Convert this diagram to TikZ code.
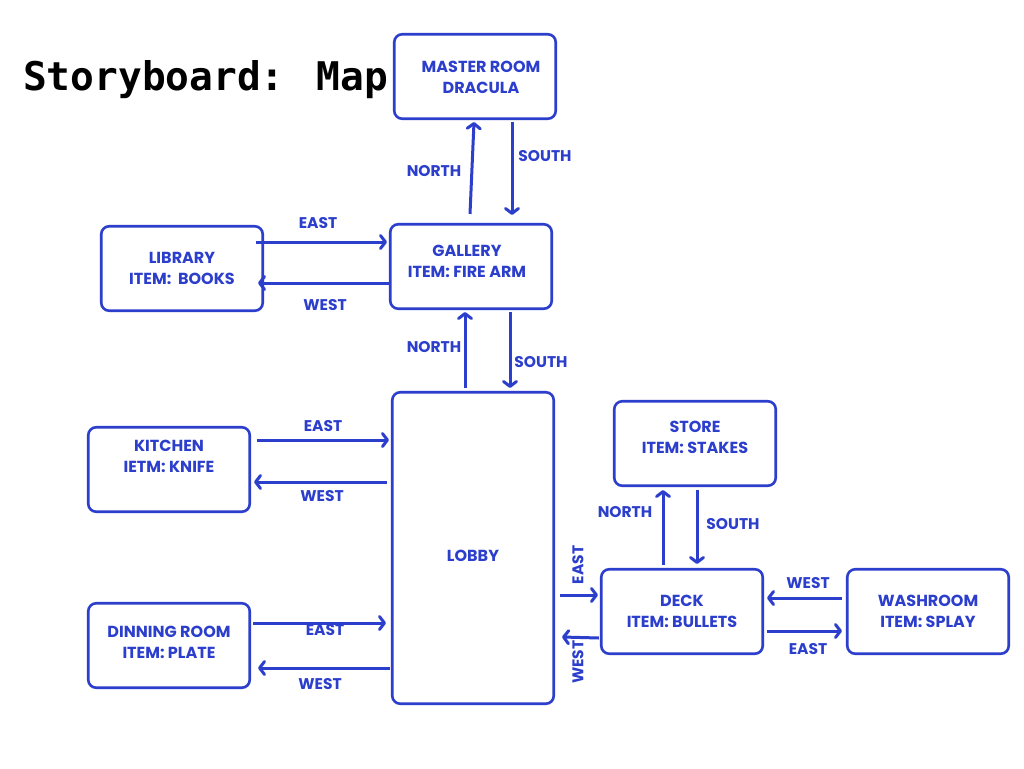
\documentclass[tikz,border=0pt]{standalone}
\usepackage{fontspec}
\setmainfont{Poppins}
\newfontfamily\titlefont{DejaVu Sans Mono}
\usetikzlibrary{arrows.meta,calc}
\definecolor{mblue}{HTML}{2C3ECC}
\tikzset{
  room/.style={draw=mblue, line width=2.6pt, rounded corners=8pt, minimum width=161.5pt, inner sep=0pt},
  roomsm/.style={room, minimum height=84.5pt},
  txt/.style={text=mblue, font=\bfseries\fontsize{16}{21}\selectfont, align=center, inner sep=0pt},
  lbl/.style={text=mblue, font=\bfseries\fontsize{15.5}{17}\selectfont, inner sep=0pt},
  arr/.style={draw=mblue, line width=3pt, -{Straight Barb[length=5pt,width=13pt,round]}},
}
\begin{document}
\begin{tikzpicture}[x=1pt,y=-1pt]
\useasboundingbox[fill=white] (0,0) rectangle (1024,768);

\node[anchor=base west, inner sep=0pt, font=\titlefont\bfseries\fontsize{39.5}{42}\selectfont] (title) at (23,90) {Storyboard: Map};

% boxes
\node[roomsm] (master) at (475,76.5) {};
\node[roomsm] (gallery) at (471,266.5) {};
\node[roomsm] (library) at (182,268.5) {};
\node[roomsm] (kitchen) at (169,469.5) {};
\node[roomsm] (dinning) at (169,645.5) {};
\node[room, minimum height=311.5pt] (lobby) at (473,548) {};
\node[roomsm] (store) at (695,443.5) {};
\node[roomsm] (deck) at (682,611.5) {};
\node[roomsm] (washroom) at (928,611.5) {};

% box texts
\node[txt] (masterT) at (481,77.5) {MASTER ROOM\\DRACULA};
\node[txt] (galleryT) at (467,261.5) {GALLERY\\ITEM: FIRE ARM};
\node[txt] (libraryT) at (182,268.5) {LIBRARY\\ITEM:\ \ BOOKS};
\node[txt] (kitchenT) at (169,456.5) {KITCHEN\\IETM: KNIFE};
\node[txt] (dinningT) at (169,642.5) {DINNING ROOM\\ITEM: PLATE};
\node[txt] (lobbyT) at (473,556) {LOBBY};
\node[txt] (storeT) at (695,437.5) {STORE\\ITEM: STAKES};
\node[txt] (deckT) at (682,611.5) {DECK\\ITEM: BULLETS};
\node[txt] (washroomT) at (928,611.5) {WASHROOM\\ITEM: SPLAY};

% connectors
\draw[arr] ($(gallery.north)+(-1,-9)$) -- ($(master.south)+(-1,2)$);
\draw[arr] ($(master.south)+(37,2)$) -- ($(gallery.north)+(41,-8)$);
\draw[arr] ($(library.east)+(-8,-26.5)$) -- ($(gallery.west)+(-2,-24.5)$);
\draw[arr] ($(gallery.west)+(1,16.5)$) -- ($(library.east)+(-6,14.5)$);
\draw[arr] ($(lobby.north)+(-8,-3)$) -- ($(gallery.south)+(-6,2)$);
\draw[arr] ($(gallery.south)+(39,2)$) -- ($(lobby.north)+(37,-3)$);
\draw[arr] ($(kitchen.east)+(6,-29.5)$) -- ($(lobby.west)+(-2,-108)$);
\draw[arr] ($(lobby.west)+(-4,-66)$) -- ($(kitchen.east)+(3,12.5)$);
\draw[arr] ($(dinning.east)+(2,-22.5)$) -- ($(lobby.west)+(-5,75)$);
\draw[arr] ($(lobby.west)+(-1,120)$) -- ($(dinning.east)+(7,22.5)$);
\draw[arr] ($(lobby.east)+(5,47)$) -- ($(deck.west)+(-2,-16.5)$);
\draw[arr] ($(deck.west)+(-1,26.5)$) -- ($(lobby.east)+(7,89)$);
\draw[arr] ($(deck.north)+(-19,-3)$) -- ($(store.south)+(-32,3)$);
\draw[arr] ($(store.south)+(2,3)$) -- ($(deck.north)+(15,-4)$);
\draw[arr] ($(washroom.west)+(-4,-13.5)$) -- ($(deck.east)+(3,-13.5)$);
\draw[arr] ($(deck.east)+(3,19.5)$) -- ($(washroom.west)+(-4,19.5)$);

% labels
\node[lbl] (l1) at (434,171) {NORTH};
\node[lbl] (l2) at (545,156) {SOUTH};
\node[lbl] (l3) at (318,223) {EAST};
\node[lbl] (l4) at (325,305) {WEST};
\node[lbl] (l5) at (434,347) {NORTH};
\node[lbl] (l6) at (541,362) {SOUTH};
\node[lbl] (l7) at (323,426) {EAST};
\node[lbl] (l8) at (322,496) {WEST};
\node[lbl] (l9) at (325,630) {EAST};
\node[lbl] (l10) at (320,684) {WEST};
\node[lbl, rotate=90] (l11) at (578,565) {EAST};
\node[lbl, rotate=90] (l12) at (578,662) {WEST};
\node[lbl] (l13) at (625,512) {NORTH};
\node[lbl] (l14) at (733,524) {SOUTH};
\node[lbl] (l15) at (808,583) {WEST};
\node[lbl] (l16) at (808,649) {EAST};
\end{tikzpicture}
\end{document}
